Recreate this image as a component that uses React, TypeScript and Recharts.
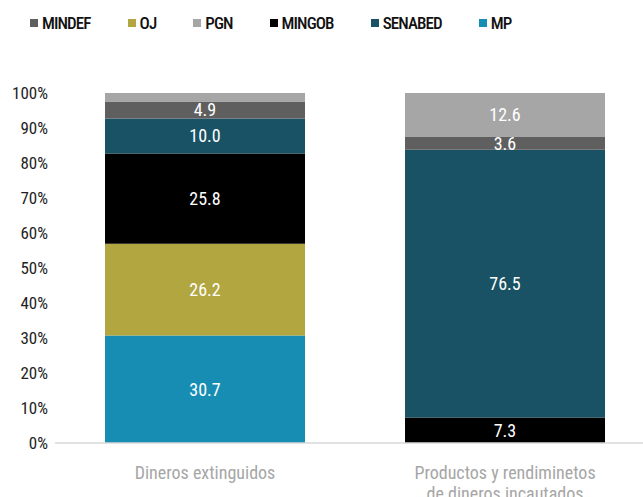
import React from 'react';
import { BarChart, Bar, XAxis, YAxis, LabelList } from 'recharts';

const categories = ['Dineros extinguidos', 'Productos y rendiminetos de dineros incautados'];
const categoryLines = [['Dineros extinguidos'], ['Productos y rendiminetos', 'de dineros incautados']];
const seriesNames = ['MP', 'OJ', 'MINGOB', 'SENABED', 'MINDEF', 'PGN'];
const MP = [30.7, 0];
const OJ = [26.2, 0];
const MINGOB = [25.8, 7.3];
const SENABED = [10.0, 76.5];
const MINDEF = [4.9, 3.6];
const PGN = [2.4, 12.6];
const yTicks = [0, 0.1, 0.2, 0.3, 0.4, 0.5, 0.6, 0.7, 0.8, 0.9, 1.0];
const legendOrder = ['MINDEF', 'OJ', 'PGN', 'MINGOB', 'SENABED', 'MP'];

const colors: Record<string, string> = {
  MP: '#178db3',
  OJ: '#b2a641',
  MINGOB: '#000000',
  SENABED: '#185264',
  MINDEF: '#5f5f5f',
  PGN: '#a6a6a6',
};

const seriesValues: Record<string, number[]> = { MP, OJ, MINGOB, SENABED, MINDEF, PGN };

const data = categories.map((c, i) => {
  const row: any = { name: c, idx: i };
  seriesNames.forEach((s) => {
    row[s] = seriesValues[s][i] / 100;
  });
  return row;
});

const FONT = 'Roboto, sans-serif';
const COND = { fontStretch: '75%' };

const XTick = (props: any) => {
  const { x, y, index } = props;
  const lines = categoryLines[index] || [];
  return (
    <g>
      {lines.map((l, i) => (
        <text
          key={i}
          x={x}
          y={y + 28 + i * 21}
          textAnchor="middle"
          fill="#a6a6a6"
          fontSize={18}
          fontFamily={FONT}
          style={COND}
        >
          {l}
        </text>
      ))}
    </g>
  );
};

export default function App() {
  return (
    <div
      style={{
        position: 'absolute',
        top: 0,
        left: 0,
        width: 643,
        height: 497,
        overflow: 'hidden',
        background: '#fff',
      }}
    >
      <div
        style={{
          position: 'absolute',
          top: 13,
          left: 30,
          display: 'flex',
          alignItems: 'center',
          whiteSpace: 'nowrap',
          fontFamily: FONT,
          fontStretch: '75%',
        }}
      >
        {legendOrder.map((s) => (
          <div key={s} style={{ display: 'flex', alignItems: 'center', marginRight: 37 }}>
            <div style={{ width: 8, height: 8, background: colors[s], marginRight: 4 }} />
            <span
              style={{
                fontSize: 17,
                fontWeight: 500,
                letterSpacing: '-0.9px',
                color: '#111',
                lineHeight: '20px',
              }}
            >
              {s}
            </span>
          </div>
        ))}
      </div>
      <BarChart
        width={660}
        height={497}
        data={data}
        margin={{ top: 93, right: 5, bottom: 0, left: 0 }}
        barCategoryGap="16.67%"
        style={{ position: 'absolute', top: 0, left: 0 }}
      >
        <XAxis
          dataKey="name"
          height={54}
          axisLine={{ stroke: '#d9d9d9', strokeWidth: 1.5 }}
          tickLine={false}
          tick={<XTick />}
          interval={0}
        />
        <YAxis
          width={55}
          domain={[0, 1]}
          ticks={yTicks}
          axisLine={false}
          tickLine={false}
          tickSize={0}
          tickMargin={7}
          interval={0}
          tickFormatter={(v: number) => `${Math.round(v * 100)}%`}
          tick={{ fill: '#222', fontSize: 17, fontFamily: FONT, style: COND }}
        />
        {seriesNames.map((s) => (
          <Bar key={s} dataKey={s} stackId="a" fill={colors[s]} isAnimationActive={false}>
            <LabelList
              dataKey={s}
              position="center"
              fill="#ffffff"
              fontSize={18}
              fontFamily={FONT}
              style={COND}
              formatter={(v: any) => (v * 100 >= 3 ? (v * 100).toFixed(1) : '')}
            />
          </Bar>
        ))}
      </BarChart>
    </div>
  );
}
